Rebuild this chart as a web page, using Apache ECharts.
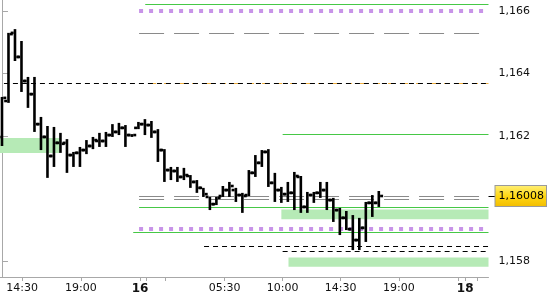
<!DOCTYPE html>
<html>
<head>
<meta charset="utf-8">
<script src="https://cdn.jsdelivr.net/npm/echarts@6/dist/echarts.min.js"></script>
<style>
html,body{margin:0;padding:0;background:#fff;}
#chart{width:550px;height:300px;}
</style>
</head>
<body>
<div id="chart"></div>
<script>
// ---- Data (30-minute OHLC bars) ----
const barOpen  = [1.16197,1.16312,1.16530,1.16453,1.16376,1.16334,1.16238,1.16197,1.16136,1.16178,
                  1.16178,1.16139,1.16146,1.16155,1.16168,1.16184,1.16184,1.16203,1.16213,1.16226,
                  1.16203,1.16226,1.16238,1.16235,1.16213,1.16155,1.16091,1.16088,1.16069,1.16072,
                  1.16053,1.16034,1.16005,1.15982,1.16008,1.16027,1.16027,1.16011,1.16011,1.16082,
                  1.16114,1.16149,1.16050,1.16027,1.16014,1.16018,1.16069,1.15973,1.16011,1.16018,
                  1.16027,1.15995,1.15963,1.15938,1.15902,1.15867,1.15906,1.15986,1.15986];
const barHigh  = [1.16325,1.16530,1.16542,1.16504,1.16389,1.16389,1.16261,1.16232,1.16229,1.16210,
                  1.16190,1.16149,1.16165,1.16187,1.16197,1.16210,1.16213,1.16238,1.16242,1.16235,
                  1.16206,1.16245,1.16254,1.16248,1.16222,1.16158,1.16101,1.16101,1.16098,1.16075,
                  1.16059,1.16034,1.16005,1.16005,1.16040,1.16053,1.16034,1.16018,1.16091,1.16139,
                  1.16155,1.16158,1.16082,1.16037,1.16053,1.16085,1.16072,1.16021,1.16021,1.16053,
                  1.16053,1.16002,1.15970,1.15960,1.15947,1.15938,1.15989,1.16011,1.16024];
const barLow   = [1.16168,1.16306,1.16440,1.16341,1.16290,1.16213,1.16155,1.16066,1.16101,1.16146,
                  1.16082,1.16101,1.16101,1.16142,1.16158,1.16165,1.16165,1.16197,1.16203,1.16165,
                  1.16197,1.16222,1.16203,1.16194,1.16117,1.16053,1.16059,1.16053,1.16059,1.16034,
                  1.16018,1.16005,1.15963,1.15979,1.16005,1.16005,1.15989,1.15954,1.16008,1.16069,
                  1.16101,1.16037,1.15989,1.15986,1.15989,1.15963,1.15954,1.15954,1.15986,1.16002,
                  1.15963,1.15925,1.15883,1.15899,1.15835,1.15835,1.15861,1.15941,1.15973];
const barClose = [1.16322,1.16526,1.16453,1.16376,1.16334,1.16238,1.16197,1.16136,1.16178,1.16175,
                  1.16139,1.16146,1.16155,1.16168,1.16187,1.16184,1.16203,1.16213,1.16226,1.16203,
                  1.16203,1.16238,1.16235,1.16213,1.16155,1.16091,1.16088,1.16069,1.16075,1.16053,
                  1.16034,1.16014,1.15982,1.16002,1.16027,1.16040,1.16011,1.16008,1.16082,1.16114,
                  1.16149,1.16050,1.16027,1.16014,1.16018,1.16072,1.15973,1.16011,1.16018,1.16027,
                  1.15995,1.15963,1.15938,1.15902,1.15867,1.15906,1.15986,1.15986,1.16008];

const timeLabels   = ['14:30','19:00','16','05:30','10:00','14:30','19:00','18'];
const timeLabelAt  = [3.1, 12.14, 21.24, 34.26, 43.19, 52.11, 61.1, 71.3];
const boldLabels   = ['16','18'];
const minorTickAt  = [22.16, 25.1, 70.2, 73.2];
const priceTicks   = [1.158, 1.162, 1.164, 1.166];
const lastPrice    = 1.16008;

// horizontal levels: [price, starting bar]
const greenLevels     = [[1.16621, 22.05], [1.16205, 43.2], [1.15972, 21.1], [1.15892, 20.2]];
const purpleLevels    = [[1.16600, 21.1], [1.15902, 21.1]];
const grayLevels      = [[1.16529, 21.1], [1.16006, 21.1], [1.15998, 21.1]];
const blackDashLevels = [[1.16369, 0.3], [1.15848, 31.1], [1.15832, 43.2]];
const orangeLevels    = [[1.16369, 21.1]];
// zones: [top price, bottom price, from bar, to bar (null = chart edge)]
const zones = [[1.16194, 1.16146, null, 8.9], [1.15965, 1.15934, 43.0, null], [1.15811, 1.15782, 44.1, null]];

// ---- Axis extents ----
const XMIN = -0.306, XMAX = 74.886;
const YMIN = 1.157488, YMAX = 1.166352;

const ohlc = barOpen.map((o, i) => [i, o, barHigh[i], barLow[i], barClose[i]]);

function renderOHLC(params, api) {
  const k = api.value(0);
  const o = api.coord([k, api.value(1)]);
  const h = api.coord([k, api.value(2)]);
  const l = api.coord([k, api.value(3)]);
  const c = api.coord([k, api.value(4)]);
  const bw = 2.6, tl = 3, th = 2.6;
  return {
    type: 'group',
    children: [
      {type: 'rect', shape: {x: h[0] - bw / 2, y: h[1], width: bw, height: Math.max(l[1] - h[1], 1)}, style: {fill: '#000'}},
      {type: 'rect', shape: {x: o[0] - bw / 2 - tl, y: o[1] - th / 2, width: tl, height: th}, style: {fill: '#000'}},
      {type: 'rect', shape: {x: c[0] + bw / 2, y: c[1] - th / 2, width: tl, height: th}, style: {fill: '#000'}}
    ]
  };
}

function lvl(list, style) {
  return list.map(([p, from]) => [
    {coord: [from, p], lineStyle: style},
    {coord: [XMAX, p]}
  ]);
}

const markLines = [].concat(
  lvl(orangeLevels,    {color: '#f0b040', width: 1, type: [6, 8], dashOffset: 3}),
  lvl(greenLevels,     {color: '#46c846', width: 1, type: 'solid'}),
  lvl(purpleLevels,    {color: '#c894e8', width: 4, type: [4, 6], cap: 'butt'}),
  lvl(grayLevels,      {color: '#8a8a8a', width: 1, type: [25, 10]}),
  lvl(blackDashLevels, {color: '#000', width: 1, type: [5, 4]})
);

const markAreas = zones.map(([top, bot, from, to]) => [
  {coord: [from == null ? XMIN : from, top]},
  {coord: [to == null ? XMAX : to, bot]}
]);

const FONT = 'DejaVu Sans';
const chart = echarts.init(document.getElementById('chart'), null, {renderer: 'canvas'});
chart.setOption({
  animation: false,
  backgroundColor: '#fff',
  grid: {left: 0, right: 59, top: 0, bottom: 23, containLabel: false},
  xAxis: {
    type: 'value', min: XMIN, max: XMAX,
    splitLine: {show: false},
    axisLine: {show: true, lineStyle: {color: '#a8a8a8', width: 1}},
    axisTick: {show: true, customValues: timeLabelAt.concat(minorTickAt), length: 4, lineStyle: {color: '#a8a8a8'}},
    axisLabel: {
      show: true, customValues: timeLabelAt, margin: 6,
      fontFamily: FONT, fontSize: 11, color: '#111',
      formatter: function (v) {
        let best = 0, d = 1e9;
        timeLabelAt.forEach((t, i) => { if (Math.abs(t - v) < d) { d = Math.abs(t - v); best = i; } });
        const s = timeLabels[best];
        return boldLabels.indexOf(s) >= 0 ? '{b|' + s + '}' : s;
      },
      rich: {b: {fontFamily: FONT, fontSize: 12, fontWeight: 'bold', color: '#111'}}
    }
  },
  yAxis: [{
    type: 'value', position: 'right', min: YMIN, max: YMAX,
    splitLine: {show: false},
    axisLine: {show: true, lineStyle: {color: '#a8a8a8', width: 1}},
    axisTick: {show: true, customValues: priceTicks, length: 6, lineStyle: {color: '#a8a8a8'}},
    axisLabel: {
      customValues: priceTicks, margin: 10, fontFamily: FONT, fontSize: 11, color: '#111',
      formatter: v => v.toFixed(3).replace('.', ',')
    }
  }, {
    type: 'value', position: 'right', min: YMIN, max: YMAX,
    splitLine: {show: false},
    axisLine: {show: false},
    axisTick: {show: true, customValues: [lastPrice], length: 7, lineStyle: {color: '#000', width: 1}},
    axisLabel: {
      customValues: [lastPrice], margin: 7, fontFamily: FONT, fontSize: 11, color: '#000',
      padding: [5, 2, 4, 3],
      backgroundColor: new echarts.graphic.LinearGradient(0, 0, 0, 1, [
        {offset: 0, color: '#fff07a'}, {offset: 0.5, color: '#ffd814'}, {offset: 1, color: '#f2bc00'}
      ]),
      borderColor: '#9a9a9a', borderWidth: 1,
      formatter: v => v.toFixed(5).replace('.', ',')
    }
  }],
  series: [{
    type: 'line', data: [], z: 1, silent: true,
    markArea: {silent: true, itemStyle: {color: '#b6eab6'}, data: markAreas},
    markLine: {silent: true, symbol: ['none', 'none'], label: {show: false}, data: markLines, animation: false}
  }, {
    type: 'custom', z: 5, renderItem: renderOHLC,
    encode: {x: 0, y: [1, 2, 3, 4]},
    data: ohlc, silent: true
  }]
});
</script>
</body>
</html>
